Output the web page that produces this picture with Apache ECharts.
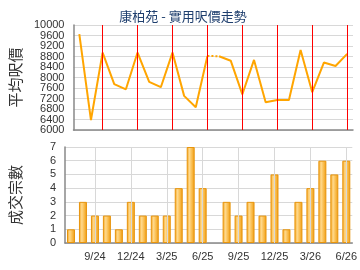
<!DOCTYPE html>
<html>
<head>
<meta charset="utf-8">
<script src="https://cdn.jsdelivr.net/npm/echarts@6/dist/echarts.min.js"></script>
<style>
  html, body { margin: 0; padding: 0; background: #fff; }
  #chart { width: 360px; height: 270px; }
</style>
</head>
<body>
<div id="chart"></div>
<script>
// 月份
const months = ['7/24', '8/24', '9/24', '10/24', '11/24', '12/24', '1/25', '2/25', '3/25', '4/25', '5/25', '6/25',
  '7/25', '8/25', '9/25', '10/25', '11/25', '12/25', '1/26', '2/26', '3/26', '4/26', '5/26', '6/26'];
// 實用呎價
const pricePerFt = [9650, 6380, 8950, 7750, 7550, 8950, 7830, 7630, 8950, 7300, 6870, 8820,
  8810, 8640, 7360, 8670, 7060, 7140, 7140, 9050, 7440, 8570, 8440, 8900];
// 成交宗數
const deals = [1, 3, 2, 2, 1, 3, 2, 2, 2, 4, 7, 4, 0, 3, 2, 3, 2, 5, 1, 3, 4, 6, 5, 6];
// 7/25 無成交, 以虛線連接
const gapIndex = 12;

const priceMin = 6000, priceMax = 10000, priceStep = 400;
const dealMin = 0, dealMax = 7;

const solidA = pricePerFt.map((v, i) => (i < gapIndex ? v : null));
const solidB = pricePerFt.map((v, i) => (i >= gapIndex ? v : null));
const dotted = pricePerFt.map((v, i) => (i === gapIndex - 1 || i === gapIndex ? v : null));
const isQuarter = (i) => i % 3 === 2;
const quarterMonths = months.filter((m, i) => isQuarter(i));

const gridColor = '#d8d8d8';
const gridLine = { show: true, lineStyle: { color: gridColor, width: 1 } };
const axisLine = { show: true, lineStyle: { color: '#888', width: 1.5 } };
const labelStyle = { color: '#333', fontSize: 11, fontFamily: 'Liberation Sans' };
const nameStyle = { color: '#333', fontSize: 15, fontFamily: 'Noto Sans CJK TC' };

// y 軸標籤分兩組, 避免 ECharts 自動隱藏相鄰標籤
function priceAxis(even) {
  return {
    type: 'value', gridIndex: 0, min: priceMin, max: priceMax, interval: priceStep,
    name: even ? '平均呎價' : '', nameLocation: 'middle', nameRotate: 90, nameGap: 42, nameTextStyle: nameStyle,
    position: 'left',
    axisLine: even ? axisLine : { show: false },
    axisTick: { show: false },
    axisLabel: Object.assign({}, labelStyle, {
      margin: 9, showMinLabel: true, showMaxLabel: true, hideOverlap: false,
      formatter: (v) => ((((v - priceMin) / priceStep) % 2 === 0) === even ? String(v) : '')
    }),
    splitLine: even ? gridLine : { show: false }
  };
}

// 季度垂直格線
function quarterLines(xIdx, yIdx, lo, hi, color) {
  return {
    type: 'line', xAxisIndex: xIdx, yAxisIndex: yIdx, data: [], z: 0, silent: true,
    markLine: {
      silent: true, symbol: 'none', label: { show: false },
      lineStyle: { color: color, width: 1, type: 'solid', opacity: 1 },
      data: quarterMonths.map((m) => [{ xAxis: m, yAxis: lo }, { xAxis: m, yAxis: hi }])
    }
  };
}

const myChart = echarts.init(document.getElementById('chart'));
myChart.setOption({
  animation: false,
  title: {
    text: '康柏苑 - 實用呎價走勢',
    left: 178,
    textAlign: 'center',
    top: 5,
    textStyle: { color: '#1f3f6e', fontSize: 13, fontWeight: 'normal', fontFamily: 'Noto Sans CJK TC' }
  },
  grid: [
    { left: 65, right: 7, top: 25, height: 105 },
    { left: 65, right: 7, top: 147, height: 96 }
  ],
  xAxis: [
    {
      type: 'category', gridIndex: 0, data: months, boundaryGap: true,
      axisLine: axisLine, axisTick: { show: false }, axisLabel: { show: false },
      splitLine: { show: false }
    },
    {
      type: 'category', gridIndex: 1, data: months, boundaryGap: true,
      axisLine: axisLine, axisTick: { show: false },
      axisLabel: Object.assign({ interval: isQuarter, margin: 8 }, labelStyle),
      splitLine: { show: false }
    }
  ],
  yAxis: [
    priceAxis(true),
    {
      type: 'value', gridIndex: 1, min: dealMin, max: dealMax, interval: 1,
      name: '成交宗數', nameLocation: 'middle', nameRotate: 90, nameGap: 42, nameTextStyle: nameStyle,
      axisLine: axisLine, axisTick: { show: false },
      axisLabel: Object.assign({ margin: 9 }, labelStyle),
      splitLine: gridLine
    },
    priceAxis(false)
  ],
  series: [
    quarterLines(0, 0, priceMin, priceMax, '#ff0000'),
    quarterLines(1, 1, dealMin, dealMax, gridColor),
    {
      type: 'line', xAxisIndex: 0, yAxisIndex: 0, data: solidA, symbol: 'none',
      lineStyle: { color: '#ffa500', width: 2 }, z: 3
    },
    {
      type: 'line', xAxisIndex: 0, yAxisIndex: 0, data: solidB, symbol: 'none',
      lineStyle: { color: '#ffa500', width: 2 }, z: 3
    },
    {
      type: 'line', xAxisIndex: 0, yAxisIndex: 0, data: dotted, symbol: 'none',
      lineStyle: { color: '#ffa500', width: 2, type: [2, 2] }, z: 3
    },
    {
      type: 'bar', xAxisIndex: 1, yAxisIndex: 1, data: deals.map((v) => (v === 0 ? null : v)), barWidth: 8,
      z: 3,
      itemStyle: {
        color: new echarts.graphic.LinearGradient(0, 0, 1, 0, [
          { offset: 0, color: '#f3a21a' },
          { offset: 0.35, color: '#ffd98c' },
          { offset: 0.7, color: '#f8b844' },
          { offset: 1, color: '#ee9a10' }
        ]),
        borderColor: '#e8950d',
        borderWidth: 1
      }
    }
  ]
});
</script>
</body>
</html>
